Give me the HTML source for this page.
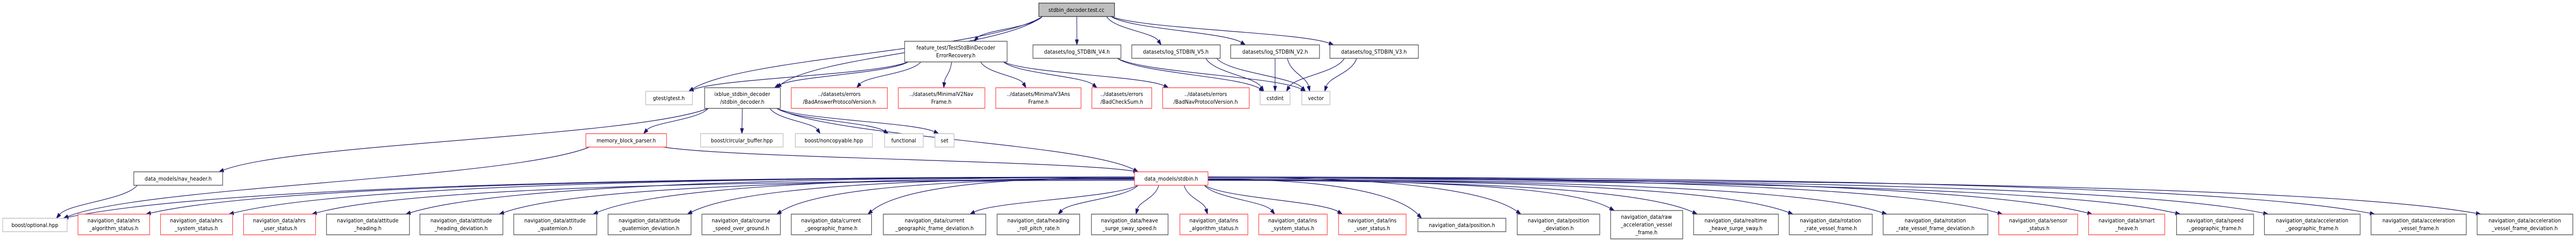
<!DOCTYPE html>
<html><head><meta charset="utf-8">
<style>
html,body{margin:0;padding:0;background:#fff;overflow:hidden;width:100%;height:100%;}
svg{display:block;position:absolute;left:0;top:0;width:100vw;height:100vh;}
text{font-family:"DejaVu Sans","Liberation Sans",sans-serif;font-size:11px;text-anchor:middle;fill:#000;}
.b{fill:#fff;stroke:#555;stroke-width:1.4;}
.r{fill:#fff;stroke:#ff4d4d;stroke-width:1.4;}
.g{fill:#fff;stroke:#bfbfbf;stroke-width:1.4;}
.e{fill:none;stroke:#191970;stroke-width:1.2;}
.a{fill:#191970;stroke:#191970;stroke-width:1;}
</style></head>
<body>
<svg id="s" xmlns="http://www.w3.org/2000/svg" viewBox="0 0 5681 469" preserveAspectRatio="none">
<g id="edges"></g>
<g id="nodes">
<rect x="2291" y="6" width="167" height="26" fill="#bfbfbf" stroke="#404040" stroke-width="1.4"/><text x="2374" y="23">stdbin_decoder.test.cc</text>

<rect class="b" x="1995" y="80" width="226" height="40"/><text x="2108" y="96">feature_test/TestStdBinDecoder</text><text x="2108" y="111">ErrorRecovery.h</text>
<rect class="b" x="2278" y="87" width="194" height="26"/><text x="2375" y="104">datasets/log_STDBIN_V4.h</text>
<rect class="b" x="2496" y="87" width="195" height="26"/><text x="2593" y="104">datasets/log_STDBIN_V5.h</text>
<rect class="b" x="2714" y="87" width="196" height="26"/><text x="2812" y="104">datasets/log_STDBIN_V2.h</text>
<rect class="b" x="2933" y="87" width="195" height="26"/><text x="3030" y="104">datasets/log_STDBIN_V3.h</text>

<rect class="g" x="1424" y="177" width="103" height="26"/><text x="1475" y="194">gtest/gtest.h</text>
<rect class="b" x="1554" y="170" width="167" height="40"/><text x="1637" y="186">ixblue_stdbin_decoder</text><text x="1637" y="201">/stdbin_decoder.h</text>
<rect class="r" x="1745" y="170" width="212" height="40"/><text x="1851" y="186">../datasets/errors</text><text x="1851" y="201">/BadAnswerProtocolVersion.h</text>
<rect class="r" x="1981" y="170" width="191" height="40"/><text x="2076" y="186">../datasets/MinimalV2Nav</text><text x="2076" y="201">Frame.h</text>
<rect class="r" x="2196" y="170" width="188" height="40"/><text x="2290" y="186">../datasets/MinimalV3Ans</text><text x="2290" y="201">Frame.h</text>
<rect class="r" x="2408" y="170" width="132" height="40"/><text x="2474" y="186">../datasets/errors</text><text x="2474" y="201">/BadCheckSum.h</text>
<rect class="r" x="2564" y="170" width="191" height="40"/><text x="2659" y="186">../datasets/errors</text><text x="2659" y="201">/BadNavProtocolVersion.h</text>
<rect class="g" x="2779" y="177" width="66" height="26"/><text x="2812" y="194">cstdint</text>
<rect class="g" x="2871" y="177" width="62" height="26"/><text x="2902" y="194">vector</text>

<rect class="r" x="1292" y="259" width="178" height="26"/><text x="1381" y="276">memory_block_parser.h</text>
<rect class="g" x="1545" y="259" width="182" height="26"/><text x="1636" y="276">boost/circular_buffer.hpp</text>
<rect class="g" x="1754" y="259" width="170" height="26"/><text x="1839" y="276">boost/noncopyable.hpp</text>
<rect class="g" x="1951" y="259" width="85" height="26"/><text x="1993" y="276">functional</text>
<rect class="g" x="2062" y="259" width="42" height="26"/><text x="2083" y="276">set</text>

<rect class="b" x="295" y="333" width="196" height="26"/><text x="393" y="350">data_models/nav_header.h</text>
<rect class="r" x="2502" y="333" width="162" height="26"/><text x="2583" y="350">data_models/stdbin.h</text>

<rect class="g" x="6" y="423" width="142" height="26"/><text x="77" y="440">boost/optional.hpp</text>

<rect class="r" x="172" y="415" width="158" height="40"/><text x="251" y="431">navigation_data/ahrs</text><text x="251" y="446">_algorithm_status.h</text>
<rect class="r" x="354" y="415" width="159" height="40"/><text x="433" y="431">navigation_data/ahrs</text><text x="433" y="446">_system_status.h</text>
<rect class="r" x="537" y="415" width="159" height="40"/><text x="616" y="431">navigation_data/ahrs</text><text x="616" y="446">_user_status.h</text>
<rect class="b" x="720" y="415" width="183" height="40"/><text x="811" y="431">navigation_data/attitude</text><text x="811" y="446">_heading.h</text>
<rect class="b" x="926" y="415" width="183" height="40"/><text x="1017" y="431">navigation_data/attitude</text><text x="1017" y="446">_heading_deviation.h</text>
<rect class="b" x="1133" y="415" width="183" height="40"/><text x="1224" y="431">navigation_data/attitude</text><text x="1224" y="446">_quaternion.h</text>
<rect class="b" x="1341" y="415" width="183" height="40"/><text x="1432" y="431">navigation_data/attitude</text><text x="1432" y="446">_quaternion_deviation.h</text>
<rect class="b" x="1548" y="415" width="173" height="40"/><text x="1634" y="431">navigation_data/course</text><text x="1634" y="446">_speed_over_ground.h</text>
<rect class="b" x="1745" y="415" width="177" height="40"/><text x="1833" y="431">navigation_data/current</text><text x="1833" y="446">_geographic_frame.h</text>
<rect class="b" x="1948" y="415" width="226" height="40"/><text x="2061" y="431">navigation_data/current</text><text x="2061" y="446">_geographic_frame_deviation.h</text>
<rect class="b" x="2199" y="415" width="182" height="40"/><text x="2290" y="431">navigation_data/heading</text><text x="2290" y="446">_roll_pitch_rate.h</text>
<rect class="b" x="2407" y="415" width="169" height="40"/><text x="2491" y="431">navigation_data/heave</text><text x="2491" y="446">_surge_sway_speed.h</text>
<rect class="r" x="2602" y="415" width="150" height="40"/><text x="2677" y="431">navigation_data/ins</text><text x="2677" y="446">_algorithm_status.h</text>
<rect class="r" x="2776" y="415" width="151" height="40"/><text x="2851" y="431">navigation_data/ins</text><text x="2851" y="446">_system_status.h</text>
<rect class="r" x="2952" y="415" width="149" height="40"/><text x="3026" y="431">navigation_data/ins</text><text x="3026" y="446">_user_status.h</text>
<rect class="b" x="3127" y="423" width="194" height="26"/><text x="3224" y="440">navigation_data/position.h</text>
<rect class="b" x="3346" y="415" width="182" height="40"/><text x="3437" y="431">navigation_data/position</text><text x="3437" y="446">_deviation.h</text>
<rect class="b" x="3552" y="408" width="159" height="55"/><text x="3631" y="424">navigation_data/raw</text><text x="3631" y="439">_acceleration_vessel</text><text x="3631" y="454">_frame.h</text>
<rect class="b" x="3735" y="415" width="187" height="40"/><text x="3828" y="431">navigation_data/realtime</text><text x="3828" y="446">_heave_surge_sway.h</text>
<rect class="b" x="3946" y="415" width="183" height="40"/><text x="4037" y="431">navigation_data/rotation</text><text x="4037" y="446">_rate_vessel_frame.h</text>
<rect class="b" x="4153" y="415" width="231" height="40"/><text x="4268" y="431">navigation_data/rotation</text><text x="4268" y="446">_rate_vessel_frame_deviation.h</text>
<rect class="r" x="4408" y="415" width="174" height="40"/><text x="4495" y="431">navigation_data/sensor</text><text x="4495" y="446">_status.h</text>
<rect class="r" x="4606" y="415" width="168" height="40"/><text x="4690" y="431">navigation_data/smart</text><text x="4690" y="446">_heave.h</text>
<rect class="b" x="4800" y="415" width="170" height="40"/><text x="4885" y="431">navigation_data/speed</text><text x="4885" y="446">_geographic_frame.h</text>
<rect class="b" x="4994" y="415" width="211" height="40"/><text x="5099" y="431">navigation_data/acceleration</text><text x="5099" y="446">_geographic_frame.h</text>
<rect class="b" x="5229" y="415" width="210" height="40"/><text x="5334" y="431">navigation_data/acceleration</text><text x="5334" y="446">_vessel_frame.h</text>
<rect class="b" x="5463" y="415" width="211" height="40"/><text x="5568" y="431">navigation_data/acceleration</text><text x="5568" y="446">_vessel_frame_deviation.h</text>
</g>
</svg>
<script>
(function(){
var N={
test:[2291,6,2458,32],ft:[1995,80,2221,120],v4:[2278,87,2472,113],v5:[2496,87,2691,113],v2:[2714,87,2910,113],v3:[2933,87,3128,113],
gt:[1424,177,1527,203],dec:[1554,170,1721,210],bap:[1745,170,1957,210],m2:[1981,170,2172,210],m3:[2196,170,2384,210],bcs:[2408,170,2540,210],bnp:[2564,170,2755,210],
ci:[2779,177,2845,203],ve:[2871,177,2933,203],
mbp:[1292,259,1470,285],cb:[1545,259,1727,285],nc:[1754,259,1924,285],fn:[1951,259,2036,285],st:[2062,259,2104,285],
nh:[295,333,491,359],sb:[2502,333,2664,359],op:[6,423,148,449]};
var bx=[[172,330],[354,513],[537,696],[720,903],[926,1109],[1133,1316],[1341,1524],[1548,1721],[1745,1922],[1948,2174],[2199,2381],[2407,2576],[2602,2752],[2776,2927],[2952,3101],[3127,3321],[3346,3528],[3552,3711],[3735,3922],[3946,4129],[4153,4384],[4408,4582],[4606,4774],[4800,4970],[4994,5205],[5229,5439],[5463,5674]];
var E=[['test','gt'],['test','dec'],['test','ft'],['test','v4'],['test','v5'],['test','v2'],['test','v3'],
['ft','gt'],['ft','dec'],['ft','bap'],['ft','m2'],['ft','m3'],['ft','bcs'],['ft','bnp'],
['v4','ci'],['v4','ve'],['v5','ci'],['v5','ve'],['v2','ci'],['v2','ve'],['v3','ci'],['v3','ve'],
['dec','mbp'],['dec','cb'],['dec','nc'],['dec','fn'],['dec','st'],['dec','nh'],['dec','sb'],
['mbp','op'],['mbp','sb'],['nh','op'],['sb','op']];
bx.forEach(function(b,i){var y=(i==15)?423:(i==17?408:415);N['b'+i]=[b[0],y,b[1],y+40];E.push(['sb','b'+i]);});
var g=document.getElementById('edges'),h='';
function cl(v,a,b){return Math.max(a,Math.min(b,v));}
E.forEach(function(e){
 var s=N[e[0]],t=N[e[1]];
 var scx=(s[0]+s[2])/2,tcx=(t[0]+t[2])/2;
 var sx,sy,c1x,c1y,c2x,c2y,ex,ey;
 ex=cl(tcx+(scx-tcx)*0.15,t[0]+8,t[2]-8);ey=t[1];
 if(Math.abs(tcx-scx)>600 && e[0]=='sb'){
   sy=346+((Math.abs(tcx-scx)%7)-3);
   sx=tcx>scx?s[2]:s[0];
   c1x=sx+(ex-sx)*0.7;c1y=sy;c2x=ex-(ex-sx)*0.08;c2y=ey-35;
 } else {
   sx=cl(scx+(tcx-scx)*0.3,s[0]+8,s[2]-8);sy=s[3];
   var dy=ey-sy;
   c1x=sx+(ex-sx)*0.15;c1y=sy+dy*0.45;c2x=ex-(ex-sx)*0.15;c2y=ey-dy*0.45;
 }
 var dx=ex-c2x,dyy=ey-c2y,L=Math.sqrt(dx*dx+dyy*dyy)||1;dx/=L;dyy/=L;
 var al=10,aw=3.5,bxp=ex-dx*al,byp=ey-dyy*al;
 h+='<path class="e" d="M'+sx+','+sy+' C'+c1x+','+c1y+' '+c2x+','+c2y+' '+bxp+','+byp+'"/>';
 h+='<polygon class="a" points="'+ex+','+ey+' '+(bxp-dyy*aw)+','+(byp+dx*aw)+' '+(bxp+dyy*aw)+','+(byp-dx*aw)+'"/>';
});
g.innerHTML=h;
})();
</script>
</body></html>
